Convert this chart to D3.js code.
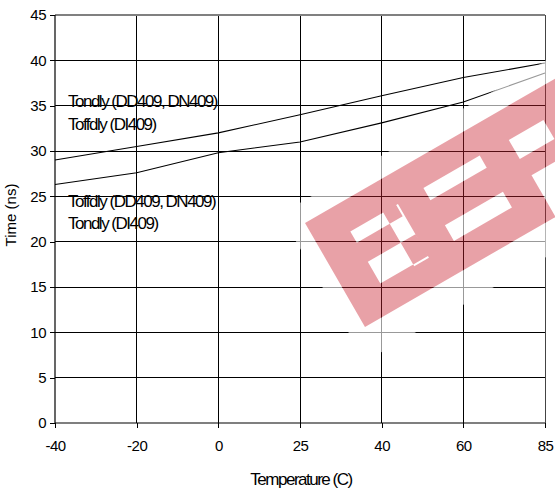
<!DOCTYPE html>
<html><head><meta charset="utf-8">
<script src="https://cdn.jsdelivr.net/npm/d3@7"></script>
<style>
html,body{margin:0;padding:0;background:#fff;}
text{font-family:"Liberation Sans",Arial,sans-serif;font-size:15px;fill:#000;letter-spacing:-0.5px;}
text.lbl{font-size:17px;letter-spacing:-1.5px;}
text.ytitle{letter-spacing:0px;}
</style></head>
<body><svg id="chart" width="555" height="493"></svg>
<script>
const temperatures = ["-40","-20","0","25","40","60","85"];
const seriesUpper = [29.0, 30.5, 32.0, 34.0, 36.1, 38.1, 39.7];
const seriesLower = [26.3, 27.6, 29.8, 31.0, 33.1, 35.4, 38.6];
const yTicks = [0,5,10,15,20,25,30,35,40,45];
const labelsUpper = ["Tondly (DD409, DN409)", "Toffdly (DI409)"];
const labelsLower = ["Toffdly (DD409, DN409)", "Tondly (DI409)"];
const labelValuesUpper = [34.9, 32.35];   // baseline values
const labelValuesLower = [23.85, 21.35];

const svg = d3.select("#chart");
const L = 55, R = 545, T = 15, B = 423;
const x = d3.scalePoint().domain(temperatures).range([L, R]).padding(0);
const y = d3.scaleLinear().domain([0, 45]).range([B, T]);

// grid
const g = svg.append("g");
g.selectAll("line.h").data(yTicks.filter(v => v > 0 && v < 45)).join("line")
  .attr("x1", L).attr("x2", R).attr("y1", d => y(d)).attr("y2", d => y(d))
  .attr("stroke", "#000").attr("stroke-width", 1).attr("shape-rendering", "crispEdges");
g.selectAll("line.v").data(temperatures.slice(1, -1)).join("line")
  .attr("x1", d => x(d)).attr("x2", d => x(d)).attr("y1", T).attr("y2", B)
  .attr("stroke", "#000").attr("stroke-width", 1).attr("shape-rendering", "crispEdges");
// top & right border
g.append("line").attr("x1", L).attr("x2", R).attr("y1", T).attr("y2", T)
  .attr("stroke", "#808080").attr("stroke-width", 1.5).attr("shape-rendering", "crispEdges");
g.append("line").attr("x1", R).attr("x2", R).attr("y1", T).attr("y2", B)
  .attr("stroke", "#444").attr("stroke-width", 1).attr("shape-rendering", "crispEdges");

// axes
const yAxis = d3.axisLeft(y).tickValues(yTicks).tickSize(5).tickPadding(4);
const ya = svg.append("g").attr("transform", `translate(${L},0)`).call(yAxis);
const xAxis = d3.axisBottom(x).tickSize(5).tickPadding(12);
const xa = svg.append("g").attr("transform", `translate(0,${B})`).call(xAxis);
[ya, xa].forEach(a => {
  a.select(".domain").attr("stroke", "#000").attr("stroke-width", 1.2);
  a.selectAll(".tick line").attr("stroke", "#000");
  a.selectAll("text").attr("font-family", null).attr("font-size", null).style("fill", "#000");
});
ya.select(".domain").attr("d", `M0,${T}V${B}`);
xa.select(".domain").attr("d", `M${L},0H${R}`);
svg.selectAll(".tick line").attr("shape-rendering", "crispEdges");

// series lines
const line = d3.line().x((d, i) => x(temperatures[i])).y(d => y(d));
[seriesUpper, seriesLower].forEach(s => {
  svg.append("path").datum(s).attr("d", line)
    .attr("fill", "none").attr("stroke", "#000").attr("stroke-width", 1.1);
});

// labels
labelsUpper.forEach((t, i) => svg.append("text").attr("class", "lbl").attr("x", 68).attr("y", y(labelValuesUpper[i])).text(t));
labelsLower.forEach((t, i) => svg.append("text").attr("class", "lbl").attr("x", 68).attr("y", y(labelValuesLower[i])).text(t));

// axis titles
svg.append("text").attr("class", "ytitle").attr("text-anchor", "middle")
  .attr("transform", "translate(16,215) rotate(-90)").text("Time (ns)");
svg.append("text").attr("class", "lbl").attr("text-anchor", "middle").attr("x", 301).attr("y", 485).text("Temperature (C)");

// watermark
const wm = svg.append("g").attr("transform", "translate(305,223) rotate(-30)");
const cut = [
  [35, 30, 53, 13], [73, 30, 17, 62], [35, 65, 55, 25],
  [120, 29, 65, 14], [120, 72, 67, 18],
  [218, 30, 40, 22], [220, 72, 40, 50]
];
const band = "M0,0H300V120H0Z";
let cuts = "";
cut.forEach(c => { cuts += `M${c[0]},${c[1]}h${c[2]}v${c[3]}h${-c[2]}Z`; });
wm.append("path").attr("d", "M-17,-20H330V150H-17Z" + band + cuts).attr("fill-rule", "evenodd")
  .attr("fill", "#fff").attr("opacity", 0.6);
wm.append("path").attr("d", band + cuts).attr("fill-rule", "evenodd")
  .attr("fill", "rgb(200,30,45)").attr("opacity", 0.42);
</script></body></html>
